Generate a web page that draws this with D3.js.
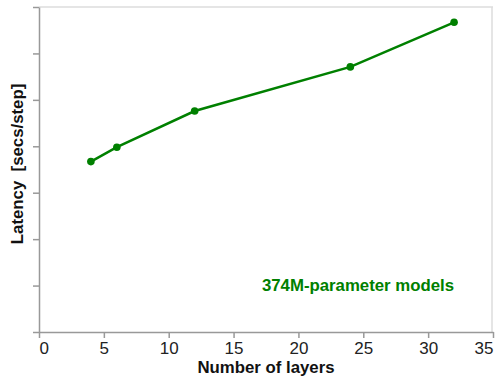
<!DOCTYPE html>
<html>
<head>
<meta charset="utf-8">
<script src="https://cdn.jsdelivr.net/npm/d3@7"></script>
<style>
  body { margin: 0; background: #fff; }
  svg text { font-family: "Liberation Sans", Arial, sans-serif; }
</style>
</head>
<body>
<svg id="chart" width="495" height="377"></svg>
<script>
// layers vs latency (y axis has no printed values)
const layers = [4, 6, 12, 24, 32];
const latency = [3.67, 3.98, 4.76, 5.71, 6.67];
const xTicks = [0, 5, 10, 15, 20, 25, 30, 35];
const yTicks = [0, 1, 2, 3, 4, 5, 6, 7];
const seriesLabel = "374M-parameter models";

const width = 495, height = 377;
const margin = {left: 39, right: 2, top: 7, bottom: 45};
const green = "#008000";

const svg = d3.select("#chart");

const x = d3.scaleLinear().domain([0, 35]).range([margin.left, width - margin.right]);
const y = d3.scaleLinear().domain([0, 7]).range([height - margin.bottom, margin.top]);

// light frame top/right
svg.append("line")
  .attr("x1", x(0)).attr("x2", x(35))
  .attr("y1", y(7)).attr("y2", y(7))
  .attr("stroke", "#dddddd").attr("stroke-width", 1.5);
svg.append("line")
  .attr("x1", x(35) - 1).attr("x2", x(35) - 1)
  .attr("y1", y(7)).attr("y2", y(0))
  .attr("stroke", "#dddddd").attr("stroke-width", 1.5);

const xAxis = svg.append("g")
  .attr("transform", `translate(0,${y(0)})`)
  .call(d3.axisBottom(x).tickValues(xTicks).tickSize(6).tickPadding(4).tickSizeOuter(0));
xAxis.select(".domain").attr("stroke", "#999").attr("stroke-width", 1.5);
xAxis.selectAll(".tick line").attr("stroke", "#999").attr("stroke-width", 1.5);
xAxis.selectAll(".tick text")
  .attr("font-size", 17).attr("fill", "#222")
  .attr("font-family", "Liberation Sans, Arial, sans-serif")
  .attr("text-anchor", d => d === 0 ? "start" : d === 35 ? "end" : "middle");

const yAxis = svg.append("g")
  .attr("transform", `translate(${x(0)},0)`)
  .call(d3.axisLeft(y).tickValues(yTicks).tickSize(6).tickFormat("").tickSizeOuter(0));
yAxis.select(".domain").attr("stroke", "#999").attr("stroke-width", 1.5);
yAxis.selectAll(".tick line").attr("stroke", "#999").attr("stroke-width", 1.5);

// axis titles
svg.append("text")
  .attr("x", (x(0) + x(35)) / 2).attr("y", 373)
  .attr("text-anchor", "middle")
  .attr("font-size", 16.8).attr("font-weight", "bold").attr("fill", "#111")
  .text("Number of layers");

svg.append("text")
  .attr("transform", `translate(23,164) rotate(-90)`)
  .attr("text-anchor", "middle")
  .attr("font-size", 16.8).attr("font-weight", "bold").attr("fill", "#111")
  .style("white-space", "pre")
  .text("Latency  [secs/step]");

// series
const line = d3.line().x((d, i) => x(layers[i])).y(d => y(d));
svg.append("path")
  .datum(latency)
  .attr("d", line)
  .attr("fill", "none")
  .attr("stroke", green)
  .attr("stroke-width", 2.5);

svg.selectAll(".pt")
  .data(latency)
  .join("circle")
  .attr("class", "pt")
  .attr("cx", (d, i) => x(layers[i]))
  .attr("cy", d => y(d))
  .attr("r", 3.8)
  .attr("fill", green);

svg.append("text")
  .attr("x", 358).attr("y", 291)
  .attr("text-anchor", "middle")
  .attr("font-size", 16.8).attr("font-weight", "bold").attr("fill", green)
  .text(seriesLabel);
</script>
</body>
</html>
